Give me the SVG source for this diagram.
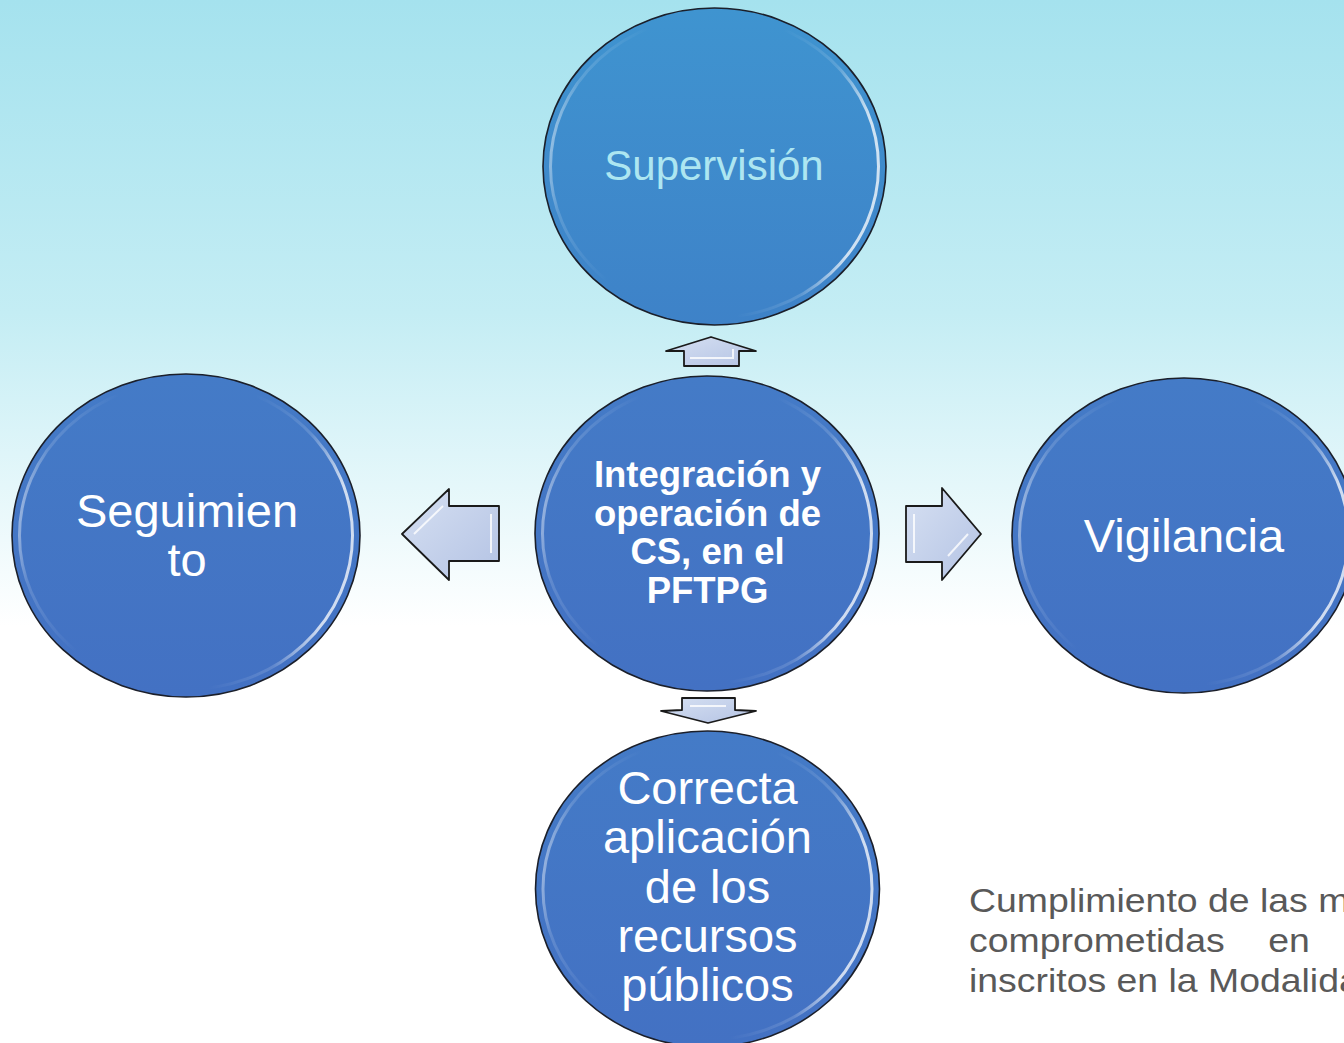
<svg xmlns="http://www.w3.org/2000/svg" width="1344" height="1043" viewBox="0 0 1344 1043">
<defs>
<linearGradient id="bg" x1="0" y1="0" x2="0" y2="1">
<stop offset="0" stop-color="#A5E2EE"/>
<stop offset="0.3" stop-color="#C4EDF4"/>
<stop offset="0.6" stop-color="#FFFFFF"/>
<stop offset="1" stop-color="#FFFFFF"/>
</linearGradient>
<linearGradient id="fillTop" x1="0" y1="0" x2="0" y2="1">
<stop offset="0" stop-color="#3F94D0"/>
<stop offset="1" stop-color="#3E82C8"/>
</linearGradient>
<linearGradient id="fillBlue" x1="0" y1="0" x2="0" y2="1">
<stop offset="0" stop-color="#447BC7"/>
<stop offset="1" stop-color="#4371C3"/>
</linearGradient>
<linearGradient id="rim" x1="0" y1="0" x2="1" y2="0.15">
<stop offset="0" stop-color="#FFFFFF" stop-opacity="0.75"/>
<stop offset="0.12" stop-color="#FFFFFF" stop-opacity="0.15"/>
<stop offset="0.3" stop-color="#FFFFFF" stop-opacity="0"/>
<stop offset="0.7" stop-color="#FFFFFF" stop-opacity="0"/>
<stop offset="0.88" stop-color="#FFFFFF" stop-opacity="0.15"/>
<stop offset="1" stop-color="#FFFFFF" stop-opacity="0.75"/>
</linearGradient>
<linearGradient id="arrowFill" x1="0" y1="0" x2="1" y2="1">
<stop offset="0" stop-color="#D6E0F2"/>
<stop offset="1" stop-color="#B4C3E4"/>
</linearGradient>
</defs>
<style>
.circ{stroke:#1b1f2a;stroke-width:1.6}
.rim{fill:none;stroke:url(#rim);stroke-width:3}
.arrow{fill:url(#arrowFill);stroke:#1a1a1a;stroke-width:1.8;stroke-linejoin:round}
.bevel{fill:none;stroke:#FFFFFF;stroke-width:2;stroke-opacity:0.8}
.lbl{font-family:"Liberation Sans",Arial,sans-serif;fill:#FFFFFF;text-anchor:middle}
.big{font-size:47px}
.para{font-family:"Liberation Sans",Arial,sans-serif;font-size:34px;fill:#595959}
</style>
<rect x="0" y="0" width="1344" height="1043" fill="url(#bg)"/>

<g id="connectors">
<g id="arrow-up">
<polygon class="arrow" points="666,351 711,337 756,351 739,351 739,366 684,366 684,351"/>
<polyline class="bevel" points="690,358 733,358 733,349"/>
</g>
<g id="arrow-left">
<polygon class="arrow" points="402,534 449,489 449,506 499,506 499,561 449,561 449,580"/>
<polyline class="bevel" points="491,514 491,553"/>
<polyline class="bevel" points="414,534 443,506"/>
</g>
<g id="arrow-right">
<polygon class="arrow" points="906,506 942,506 942,488 981,534 942,580 942,562 906,562"/>
<polyline class="bevel" points="914,514 914,553"/>
<polyline class="bevel" points="968,534 948,556"/>
</g>
<g id="arrow-down">
<polygon class="arrow" points="682,698 735,698 735,710 756,711 708,723 661,711 682,710"/>
<polyline class="bevel" points="690,706 726,706"/>
</g>
</g>

<g id="node-supervision">
<ellipse class="circ" cx="714.5" cy="166.5" rx="171.5" ry="158.5" fill="url(#fillTop)"/>
<ellipse class="rim" cx="714.5" cy="166.5" rx="164" ry="151"/>
<text class="lbl" x="714" y="180" font-size="42" style="fill:#ADE6F1">Supervisión</text>
</g>

<g id="node-seguimiento">
<ellipse class="circ" cx="186" cy="535.5" rx="174" ry="161.5" fill="url(#fillBlue)"/>
<ellipse class="rim" cx="186" cy="535.5" rx="166.5" ry="154"/>
<text class="lbl big" x="187" y="527">Seguimien</text>
<text class="lbl big" x="187" y="576">to</text>
</g>

<g id="node-center">
<ellipse class="circ" cx="707" cy="533.5" rx="172" ry="157.5" fill="url(#fillBlue)"/>
<ellipse class="rim" cx="707" cy="533.5" rx="164.5" ry="150"/>
<text class="lbl" x="707.5" y="487" font-size="36.5" font-weight="bold">Integración y</text>
<text class="lbl" x="707.5" y="526" font-size="36.5" font-weight="bold">operación de</text>
<text class="lbl" x="707.5" y="564" font-size="36.5" font-weight="bold">CS, en el</text>
<text class="lbl" x="707.5" y="603" font-size="36.5" font-weight="bold">PFTPG</text>
</g>

<g id="node-vigilancia">
<ellipse class="circ" cx="1184" cy="535.5" rx="172" ry="157.5" fill="url(#fillBlue)"/>
<ellipse class="rim" cx="1184" cy="535.5" rx="164.5" ry="150"/>
<text class="lbl big" x="1184" y="552">Vigilancia</text>
</g>

<g id="node-correcta">
<ellipse class="circ" cx="707.5" cy="889" rx="172" ry="158" fill="url(#fillBlue)"/>
<ellipse class="rim" cx="707.5" cy="889" rx="164.5" ry="150.5"/>
<text class="lbl big" x="707.5" y="804">Correcta</text>
<text class="lbl big" x="707.5" y="853">aplicación</text>
<text class="lbl big" x="707.5" y="903">de los</text>
<text class="lbl big" x="707.5" y="952">recursos</text>
<text class="lbl big" x="707.5" y="1001">públicos</text>
</g>

<g id="note" transform="translate(969,0) scale(1.1,1)">
<text class="para" x="0" y="912">Cumplimiento de las m</text>
<text class="para" x="0" y="952">comprometidas</text>
<text class="para" x="272" y="952">en</text>
<text class="para" x="0" y="992">inscritos en la Modalida</text>
</g>
</svg>
